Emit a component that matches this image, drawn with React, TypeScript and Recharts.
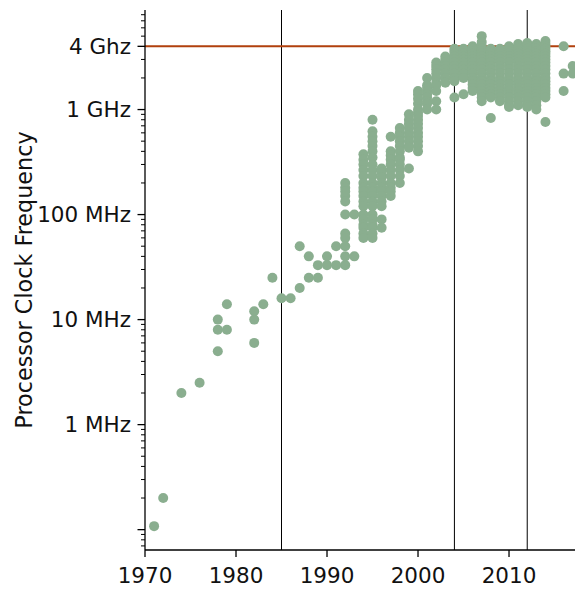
import { ScatterChart, Scatter, XAxis, YAxis, ReferenceLine } from "recharts";

// clock rates in MHz, one list per year
const earlyYears = [1971, 1972, 1974, 1976, 1978, 1979, 1982, 1983, 1984, 1985, 1986, 1987, 1988, 1989, 1990, 1991];
const earlyMHz = [
  [0.108], [0.2], [2], [2.5], [5, 8, 10], [8, 14], [6, 10, 12], [14], [25], [16], [16],
  [20, 50], [25, 40], [25, 33], [33, 40], [33, 50],
];

const rampYears = [1992, 1993, 1994, 1995, 1996, 1997, 1998, 1999, 2000, 2001, 2002, 2003];
const rampMHz = [
  [200, 180, 166, 150, 133, 100, 66, 60, 50, 40, 33],
  [100, 40],
  [375, 333, 300, 266, 233, 200, 180, 166, 150, 133, 120, 100, 90, 80, 75, 66, 60],
  [800, 620, 550, 500, 450, 400, 350, 300, 266, 233, 200, 180, 166, 150, 133, 120, 100, 90, 80, 75, 66, 60],
  [275, 250, 225, 200, 180, 166, 150, 133, 120, 90, 75],
  [550, 400, 366, 333, 300, 266, 233, 200, 180, 166, 150],
  [666, 600, 550, 500, 450, 400, 350, 333, 300, 266, 233, 200],
  [900, 800, 733, 667, 600, 550, 500, 450, 433, 275],
  [1500, 1400, 1266, 1133, 1000, 933, 866, 800, 733, 667, 600, 550, 500, 450, 400],
  [2000, 1700, 1600, 1500, 1400, 1300, 1200, 1133, 1000],
  [2800, 2600, 2400, 2200, 2000, 1800, 1700, 1500, 1200, 1000],
  [3200, 3000, 2800, 2600, 2400, 2200, 2000, 1800],
];

const multicoreYears = [2004, 2005, 2006, 2007, 2008, 2009, 2010, 2011, 2012, 2013, 2014, 2016, 2017];
const multicoreMHz = [
  [3800, 3600, 3400, 3200, 3000, 2800, 2600, 2400, 2200, 2000, 1860, 1300],
  [3800, 3600, 3400, 3200, 3000, 2800, 2600, 2400, 2200, 2000, 1400],
  [4000, 3800, 3600, 3400, 3200, 3000, 2800, 2600, 2400, 2200, 2000, 1860, 1730, 1600, 1500],
  [5000, 4400, 4000, 3800, 3600, 3400, 3200, 3000, 2800, 2600, 2400, 2200, 2000, 1860, 1730, 1600, 1500, 1400, 1300, 1200],
  [3800, 3600, 3400, 3200, 3000, 2800, 2600, 2400, 2200, 2000, 1860, 1730, 1600, 1500, 1400, 1300, 830],
  [3800, 3600, 3400, 3200, 3000, 2800, 2600, 2400, 2200, 2000, 1860, 1730, 1600, 1500, 1400, 1300, 1200],
  [4000, 3800, 3600, 3400, 3200, 3000, 2800, 2600, 2400, 2200, 2000, 1860, 1730, 1600, 1500, 1400, 1300, 1200, 1100, 1060],
  [4200, 4000, 3800, 3600, 3400, 3200, 3000, 2800, 2600, 2400, 2200, 2000, 1860, 1730, 1600, 1500, 1400, 1300, 1200, 1100],
  [4300, 4000, 3800, 3600, 3400, 3200, 3000, 2800, 2600, 2400, 2200, 2000, 1860, 1730, 1600, 1500, 1400, 1300, 1200, 1100, 1060],
  [4200, 4000, 3800, 3600, 3400, 3200, 3000, 2800, 2600, 2400, 2200, 2000, 1860, 1730, 1600, 1500, 1400, 1300, 1200, 1100, 1000],
  [4500, 4200, 4000, 3800, 3600, 3400, 3200, 3000, 2800, 2600, 2400, 2200, 2000, 1860, 1730, 1600, 1500, 1400, 1300, 760],
  [4000, 2200, 1500],
  [2600, 2200],
];

const eraYears = [1985, 2004, 2012];
const powerWallMHz = 4000;

const yearTicks = [1970, 1980, 1990, 2000, 2010];
const freqTicks = [0.1, 1, 10, 100, 1000, 4000];
const freqLabels = ["", "1 MHz", "10 MHz", "100 MHz", "1 GHz", "4 Ghz"];

const Y_MIN = 0.064;
const Y_MAX = 8870;

const toPoints = (years: number[], clocks: number[][]) =>
  years.flatMap((year, i) => clocks[i].map((mhz) => ({ year, mhz })));

const points = [
  ...toPoints(earlyYears, earlyMHz),
  ...toPoints(rampYears, rampMHz),
  ...toPoints(multicoreYears, multicoreMHz),
];

// log minor ticks at 2..9 of every decade (4 GHz already has a labelled tick)
const minorTicks: number[] = [];
for (let e = -2; e <= 3; e++) {
  for (let m = 2; m <= 9; m++) {
    const v = m * 10 ** e;
    if (v > Y_MIN && v < Y_MAX && v !== powerWallMHz) minorTicks.push(v);
  }
}
const allTicks = [...freqTicks, ...minorTicks].sort((a, b) => a - b);

const DOT = "#8aae8f";

function FreqTick(props: any) {
  const { x, y, payload } = props;
  const idx = freqTicks.indexOf(payload.value);
  const major = idx >= 0;
  const len = major ? 7.5 : 4;
  return (
    <g>
      <line x1={x - len} x2={x} y1={y} y2={y} stroke="#000" strokeWidth={major ? 1.3 : 1} />
      {major && freqLabels[idx] && (
        <text x={x - 14} y={y} dy="0.36em" textAnchor="end" fontSize={21.5} fill="#111">
          {freqLabels[idx]}
        </text>
      )}
    </g>
  );
}

export default function App() {
  return (
    <div
      style={{
        position: "absolute",
        left: 0,
        top: 0,
        width: 575,
        height: 590,
        background: "#fff",
        fontFamily: "DejaVu Sans",
      }}
    >
      <ScatterChart width={575} height={590} margin={{ top: 10, right: 0, bottom: 0, left: 0 }}>
        <XAxis
          type="number"
          dataKey="year"
          domain={[1970, 2017.25]}
          allowDataOverflow
          ticks={yearTicks}
          interval={0}
          height={40}
          tickSize={7}
          tickMargin={11}
          axisLine={{ stroke: "#000", strokeWidth: 1.3 }}
          tickLine={{ stroke: "#000", strokeWidth: 1.3 }}
          tick={{ fontSize: 21.5, fill: "#111" }}
        />
        <YAxis
          type="number"
          dataKey="mhz"
          scale="log"
          domain={[Y_MIN, Y_MAX]}
          allowDataOverflow
          ticks={allTicks}
          interval={0}
          width={145}
          tickSize={0}
          tickMargin={0}
          tickLine={false}
          axisLine={{ stroke: "#000", strokeWidth: 1.3 }}
          tick={<FreqTick />}
          label={() => (
            <text x={-280} y={32} transform="rotate(-90)" textAnchor="middle" fontSize={22.3} fill="#111">
              Processor Clock Frequency
            </text>
          )}
        />
        <Scatter
          data={points}
          fill={DOT}
          isAnimationActive={false}
          shape={(p: any) => <circle cx={p.cx} cy={p.cy} r={5} fill={DOT} />}
        />
        {eraYears.map((yr) => (
          <ReferenceLine key={yr} x={yr} stroke="#000" strokeWidth={1} />
        ))}
        <ReferenceLine y={powerWallMHz} stroke="#b1400d" strokeWidth={2} />
      </ScatterChart>
    </div>
  );
}
